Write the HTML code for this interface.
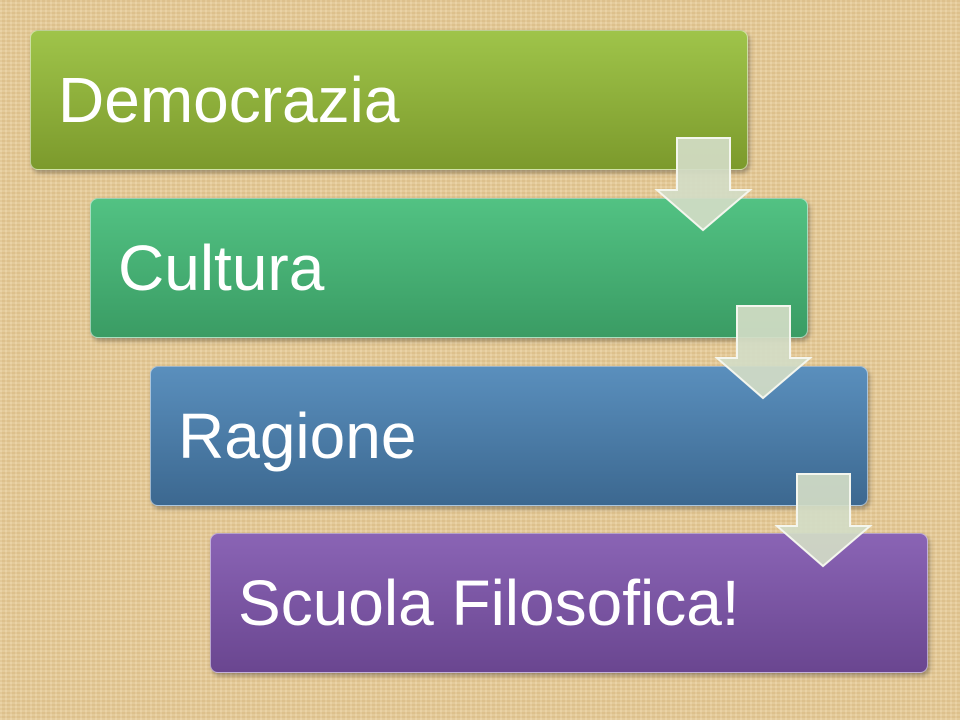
<!DOCTYPE html>
<html><head><style>
body{margin:0;width:960px;height:720px;overflow:hidden;background:#e6cb98;
background-image:repeating-linear-gradient(0deg,rgba(255,255,255,.08) 0 2px,rgba(150,110,50,.06) 2px 4px),repeating-linear-gradient(90deg,rgba(255,255,255,.07) 0 2px,rgba(150,110,50,.06) 2px 5px);
font-family:"Liberation Sans",sans-serif;position:relative}
.b{position:absolute;width:718px;height:140px;border-radius:8px;box-shadow:2px 3px 4px rgba(0,0,0,.3);color:#fff;font-size:64px;box-sizing:border-box;padding-left:27px;line-height:138px;border:1px solid rgba(255,255,255,.5)}
svg{position:absolute;left:0;top:0}
</style></head><body>
<div class="b" style="left:30px;top:30px;background:linear-gradient(#9fc44a,#7c9a2c)">Democrazia</div>
<div class="b" style="left:90px;top:198px;background:linear-gradient(#52c283,#3a9c64)">Cultura</div>
<div class="b" style="left:150px;top:366px;background:linear-gradient(#5a8fbd,#3c6890)">Ragione</div>
<div class="b" style="left:210px;top:533px;background:linear-gradient(#8a64b5,#6a4690)">Scuola Filosofica!</div>
<svg width="960" height="720">
<g fill="#d3dcc6" fill-opacity="0.92" stroke="#f4f6ee" stroke-width="2">
<polygon points="677,138 730,138 730,190 750,190 703,230 657,190 677,190"/>
<polygon points="737,306 790,306 790,358 810,358 763,398 717,358 737,358"/>
<polygon points="797,474 850,474 850,526 870,526 823,566 777,526 797,526"/>
</g></svg>
</body></html>
